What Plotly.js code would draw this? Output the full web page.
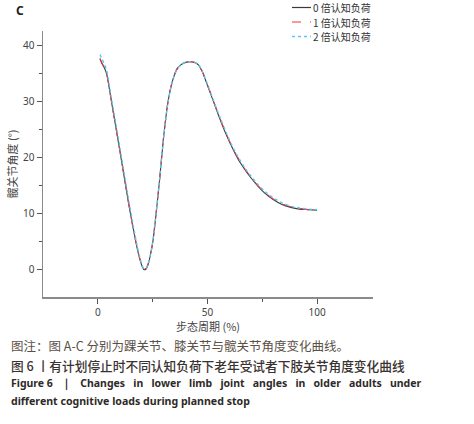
<!DOCTYPE html>
<html>
<head>
<meta charset="utf-8">
<script src="https://cdn.plot.ly/plotly-3.0.1.min.js"></script>
<style>html,body{margin:0;padding:0;background:#fff;}#chart{width:474px;height:424px;}</style>
</head>
<body>
<div id="chart"></div>
<script>
const seriesNames = ["0 倍认知负荷", "1 倍认知负荷", "2 倍认知负荷"];
const gaitCycle = [1, 2, 3, 4, 5, 6, 8, 10, 12, 14, 16, 18, 19, 20, 21, 22, 23, 24, 25, 26, 28, 30, 32, 34, 36, 38, 40, 42, 44, 46, 47, 48, 50, 52, 55, 58, 61, 64, 67, 70, 73, 76, 80, 84, 88, 92, 96, 100];
const load0 = [37.6, 36.6, 35.9, 34.9, 32.8, 30.4, 25.8, 21.2, 16.5, 11.8, 7.5, 3.6, 2.0, 0.7, -0.1, 0.0, 0.9, 2.5, 4.6, 7.8, 15.2, 23.5, 29.8, 33.5, 35.6, 36.5, 36.9, 37.0, 36.9, 36.4, 35.7, 34.9, 32.8, 30.7, 27.5, 24.5, 21.9, 19.6, 17.8, 16.2, 14.8, 13.6, 12.4, 11.5, 11.0, 10.7, 10.6, 10.5];
const load1 = [37.5, 36.7, 36.0, 35.0, 32.9, 30.5, 25.9, 21.3, 16.6, 11.9, 7.6, 3.7, 2.1, 0.8, 0.0, 0.1, 1.0, 2.6, 4.7, 7.9, 15.3, 23.6, 29.9, 33.6, 35.7, 36.6, 36.9, 37.0, 36.9, 36.5, 35.8, 35.0, 32.9, 30.8, 27.6, 24.7, 22.0, 19.8, 17.9, 16.3, 14.9, 13.7, 12.5, 11.6, 11.1, 10.8, 10.6, 10.5];
const load2 = [38.3, 37.4, 36.6, 35.5, 33.5, 31.0, 26.5, 21.9, 17.2, 12.5, 8.1, 4.0, 2.3, 0.9, 0.0, 0.1, 1.0, 2.6, 4.7, 7.9, 15.3, 23.5, 29.8, 33.5, 35.6, 36.5, 36.9, 37.0, 36.9, 36.5, 35.8, 35.0, 33.0, 30.9, 27.8, 24.9, 22.2, 20.0, 18.1, 16.5, 15.1, 13.9, 12.7, 11.8, 11.2, 10.9, 10.7, 10.6];
const xTicks = [0, 50, 100];
const yTicks = [0, 10, 20, 30, 40];

const colors = ["#3a3a3a", "#e8363c", "#5cc8f0"];
const dashes = ["solid", "dash", "dot"];
const ys = [load0, load1, load2];
const widths = [1.1, 1.1, 1.4];

const traces = ys.map((y, i) => ({
  x: gaitCycle, y: y, type: "scatter", mode: "lines", name: seriesNames[i], showlegend: false,
  line: {color: colors[i], dash: dashes[i], width: widths[i], shape: "spline", smoothing: 0.6}
}));

const axisCommon = {
  showgrid: false, zeroline: false, showline: true, linecolor: "#8a8a8a", linewidth: 1.5,
  ticks: "outside", ticklen: 5, tickcolor: "#555", tickwidth: 1,
  tickfont: {family: "Noto Sans, DejaVu Sans, sans-serif", size: 10, color: "#444"}
};

const plotW = 474 - 43 - 101, plotH = 424 - 31 - 127;
function px(x) { return (x - 43) / plotW; }
function py(y) { return (424 - 127 - y) / plotH; }

const layout = {
  width: 474, height: 424,
  margin: {l: 43, r: 101, t: 31, b: 127},
  paper_bgcolor: "#fff", plot_bgcolor: "#fff",
  showlegend: false,
  xaxis: Object.assign({}, axisCommon, {range: [-25, 125.5], tickvals: xTicks, ticktext: xTicks.map(String),
    minor: {tickvals: [25, 75], ticks: "outside", ticklen: 3, tickcolor: "#555"},
    title: {text: "步态周期 (%)", standoff: 3, font: {family: "Noto Sans CJK SC, sans-serif", size: 11, color: "#444"}}}),
  yaxis: Object.assign({}, axisCommon, {range: [-5, 42.5], tickvals: yTicks, ticktext: yTicks.map(String),
    minor: {tickvals: [5, 15, 25, 35], ticks: "outside", ticklen: 3, tickcolor: "#555"},
    title: {text: "髋关节角度 (°)", standoff: 3, font: {family: "Noto Sans CJK SC, sans-serif", size: 11, color: "#444"}}}),
  shapes: [],
  annotations: []
};

// Legend (manual, compact): line samples + labels
const legendFont = 10;
const legendRows = [7.5, 22, 36.5];
seriesNames.forEach((n, i) => {
  const yy = legendRows[i];
  layout.shapes.push({type: "line", xref: "paper", yref: "paper", x0: px(292), x1: px(311), y0: py(yy), y1: py(yy),
    line: {color: colors[i], dash: dashes[i], width: i === 2 ? 1.6 : 1.2}});
  layout.annotations.push({text: n, x: px(312), y: py(yy), xref: "paper", yref: "paper",
    xanchor: "left", yanchor: "middle", showarrow: false, borderpad: 0,
    font: {family: "Noto Sans CJK SC, sans-serif", size: legendFont, color: "#333"}});
});

layout.annotations.push(
  {text: "<b>C</b>", x: px(14), y: py(11), xref: "paper", yref: "paper", xanchor: "left", yanchor: "middle", showarrow: false,
   font: {family: "Noto Sans, sans-serif", size: 12, color: "#222"}},
  {text: "图注：图 A-C 分别为踝关节、膝关节与髋关节角度变化曲线。", x: px(9), y: py(345), xref: "paper", yref: "paper", xanchor: "left", yanchor: "middle", showarrow: false,
   font: {family: "Noto Sans CJK SC, sans-serif", size: 12.5, color: "#5a5046"}},
  {text: "图 6 丨有计划停止时不同认知负荷下老年受试者下肢关节角度变化曲线", x: px(9), y: py(365), xref: "paper", yref: "paper", xanchor: "left", yanchor: "middle", showarrow: false,
   font: {family: "Noto Sans CJK SC, sans-serif", size: 12.7, color: "#3a3230", weight: 500}},
  {text: "<b>Figure 6 &nbsp; ｜ &nbsp; Changes&nbsp;  in&nbsp;  lower&nbsp;  limb&nbsp;  joint&nbsp;  angles&nbsp;  in&nbsp;  older&nbsp;  adults&nbsp;  under</b>", x: px(9), y: py(383), xref: "paper", yref: "paper", xanchor: "left", yanchor: "middle", showarrow: false,
   font: {family: "Noto Sans, sans-serif", size: 10.5, color: "#2e2a28"}},
  {text: "<b>different cognitive loads during planned stop</b>", x: px(9), y: py(401), xref: "paper", yref: "paper", xanchor: "left", yanchor: "middle", showarrow: false,
   font: {family: "Noto Sans, sans-serif", size: 10.6, color: "#2e2a28"}}
);

Plotly.newPlot("chart", traces, layout, {displayModeBar: false, staticPlot: true});
</script>
</body>
</html>
